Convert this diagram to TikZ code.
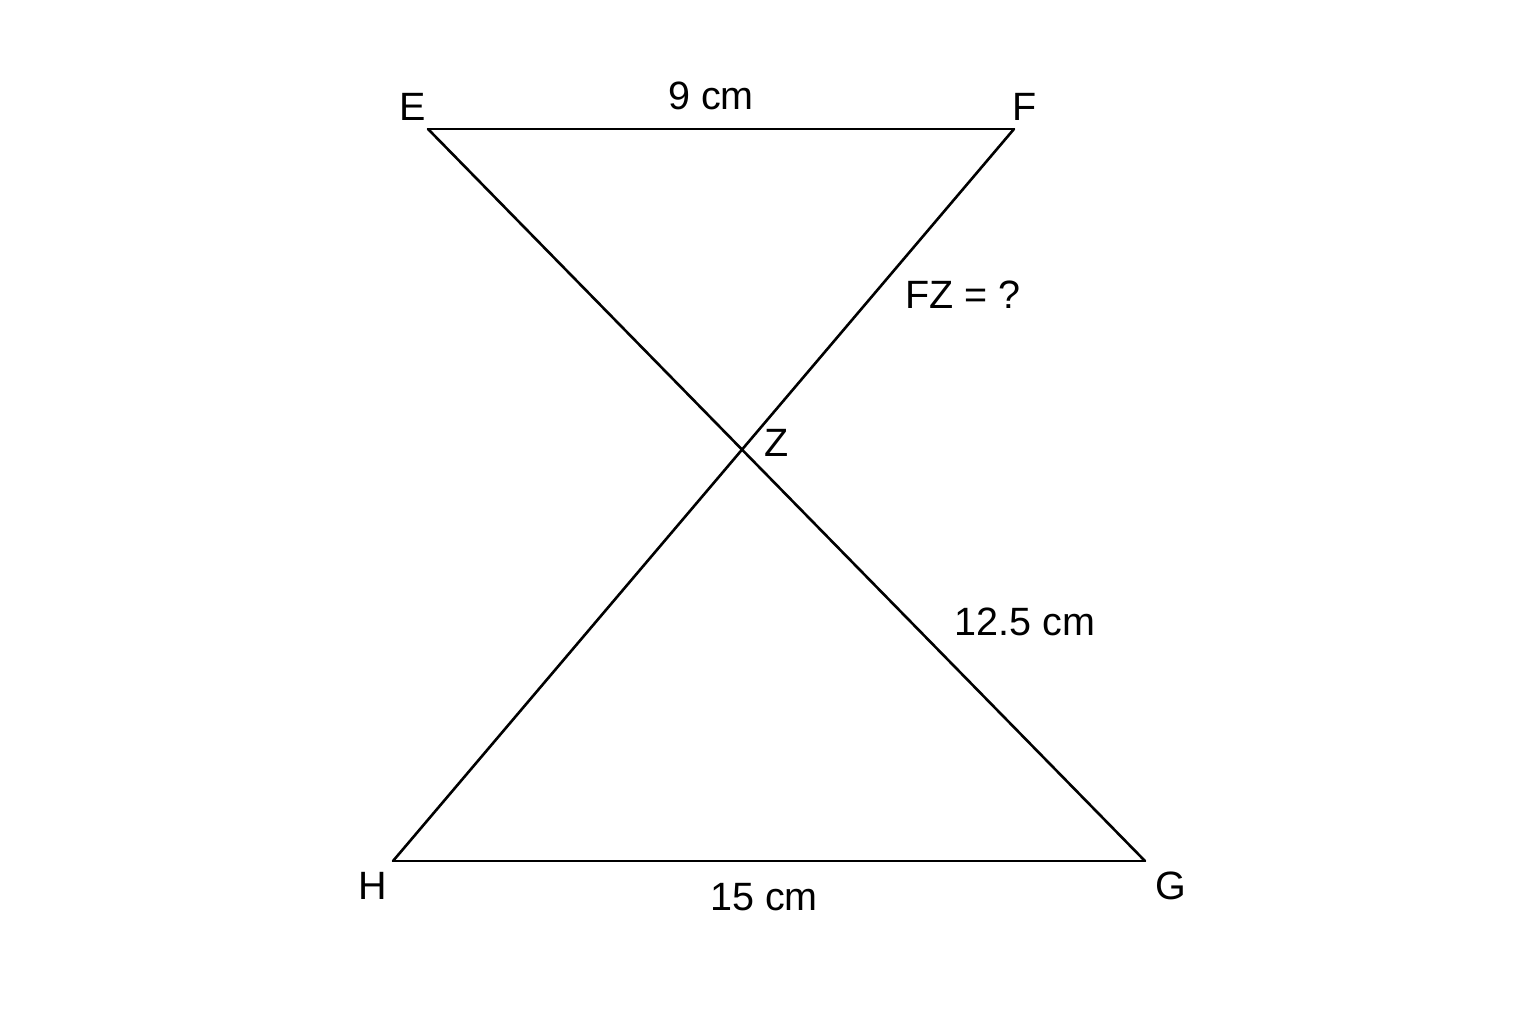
\documentclass[tikz,border=0pt]{standalone}
\usepackage{fontspec}
\setmainfont{Liberation Sans}
\usetikzlibrary{intersections}
\begin{document}
\begin{tikzpicture}[x=1pt,y=-1pt,
  seg/.style={line width=2.6pt,line cap=round,line join=round},
  lbl/.style={inner sep=0pt,anchor=center,font=\fontsize{39.5}{42}\selectfont}]
\useasboundingbox[fill=white] (0,0) rectangle (1536,1024);
\coordinate (E) at (428,129);
\coordinate (F) at (1014,129);
\coordinate (H) at (393,861);
\coordinate (G) at (1145,861);
\draw[seg] (E) -- (F);
\draw[seg] (H) -- (G);
\draw[seg,name path=eg] (E) -- (G);
\draw[seg,name path=fh] (F) -- (H);
\path[name intersections={of=eg and fh,by=Z}];
\node[lbl] (lE) at (413,107) {E};
\node[lbl] (lF) at (1025,107) {F};
\node[lbl] (lH) at (373,886) {H};
\node[lbl] (lG) at (1171,886) {G};
\node[lbl] (lZ) at (777,443) {Z};
\node[lbl] (l9) at (711,96) {9 cm};
\node[lbl] (lFZ) at (963,295) {FZ = ?};
\node[lbl] (l125) at (1025,622) {12.5 cm};
\node[lbl] (l15) at (764,897) {15 cm};
\end{tikzpicture}
\end{document}
